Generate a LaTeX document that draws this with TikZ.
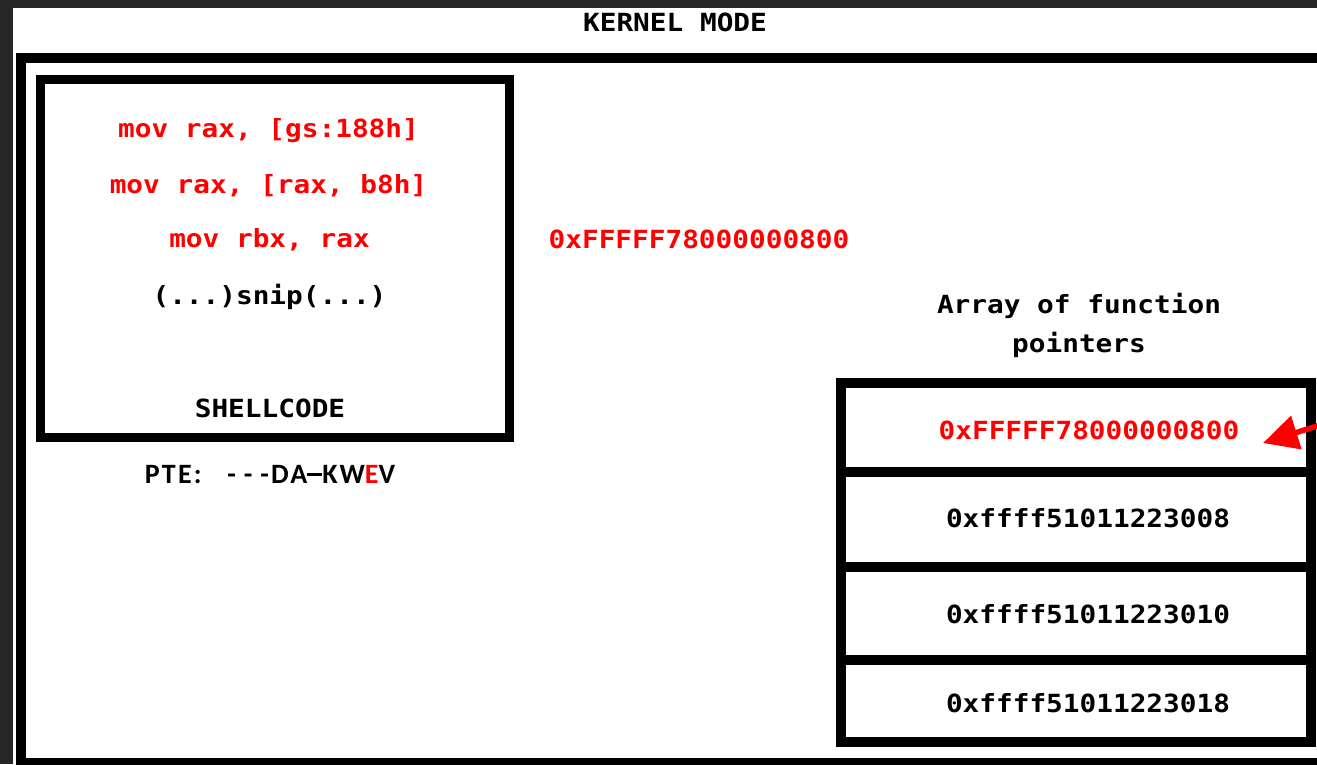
\documentclass[tikz,border=0pt]{standalone}
\usepackage{fontspec}
\newfontfamily\cons[FakeStretch=1.11]{DejaVu Sans Mono}
\newfontfamily\calib[LetterSpace=8]{Carlito Bold}
\usetikzlibrary{arrows.meta}
\definecolor{darkbg}{HTML}{262626}
\definecolor{codered}{HTML}{FF0000}
\tikzset{
  mono/.style={font=\cons\bfseries\fontsize{25}{30}\selectfont, anchor=base, inner sep=0pt},
  redmono/.style={mono, text=codered},
  cellbox/.style={draw=black, line width=10pt, minimum width=470.5pt, inner sep=0pt, outer sep=0pt},
  frame/.style={draw=black, line width=10pt},
  ptr/.style={draw=codered, line width=5.5pt, -{Triangle[length=35pt,width=34pt]}}
}
\begin{document}
\begin{tikzpicture}[x=1pt,y=-1pt]
\useasboundingbox (0,0) rectangle (1317,764);
\fill[darkbg] (0,0) rectangle (1317,764);
\fill[white] (13,8) rectangle (1317,764);
% kernel frame
\draw[frame] (21,58) rectangle (1345,763);
\node[mono] (title) at (675,31.5) {KERNEL MODE};
% shellcode box
\node[draw=black, line width=9pt, minimum width=468.5pt, minimum height=358pt, inner sep=0pt] (shell) at (274.75,258.5) {};
\node[redmono] (l1) at (268.5,137) {mov rax, [gs:188h]};
\node[redmono] (l2) at (268.5,193) {mov rax, [rax, b8h]};
\node[redmono] (l3) at (269.5,247) {mov rbx, rax};
\node[mono] (l4) at (269.5,304) {(...)snip(...)};
\node[mono] (sc) at (270,417) {SHELLCODE};
\node[font=\calib\fontsize{28}{32}\selectfont, anchor=base, inner sep=0pt] (pte) at (270,483) {PTE:\ \ \ -\hspace{8pt}-\hspace{8pt}-\hspace{2pt}DA\rule[7.5pt]{15pt}{2.6pt}KW\textcolor{codered}{E}V};
% middle address
\node[redmono] (addr) at (699,248) {0xFFFFF78000000800};
% array
\node[mono] (at1) at (1079,313) {Array of function};
\node[mono] (at2) at (1079,352) {pointers};
\node[cellbox, minimum height=89pt] (c1) at (1075.75,427) {};
\node[cellbox, minimum height=95.5pt] (c2) at (1075.75,519.25) {};
\node[cellbox, minimum height=92.5pt] (c3) at (1075.75,613.25) {};
\node[cellbox, minimum height=82.5pt] (c4) at (1075.75,700.75) {};
\node[redmono] (v1) at (1089,439) {0xFFFFF78000000800};
\node[mono] (v2) at (1088,527) {0xffff51011223008};
\node[mono] (v3) at (1088,623) {0xffff51011223010};
\node[mono] (v4) at (1088,712) {0xffff51011223018};
% arrow
\coordinate (arrstart) at (1344,417.5);
\coordinate (arrtip) at (1263,443);
\draw[ptr] (arrstart) -- (arrtip);
\end{tikzpicture}
\end{document}
